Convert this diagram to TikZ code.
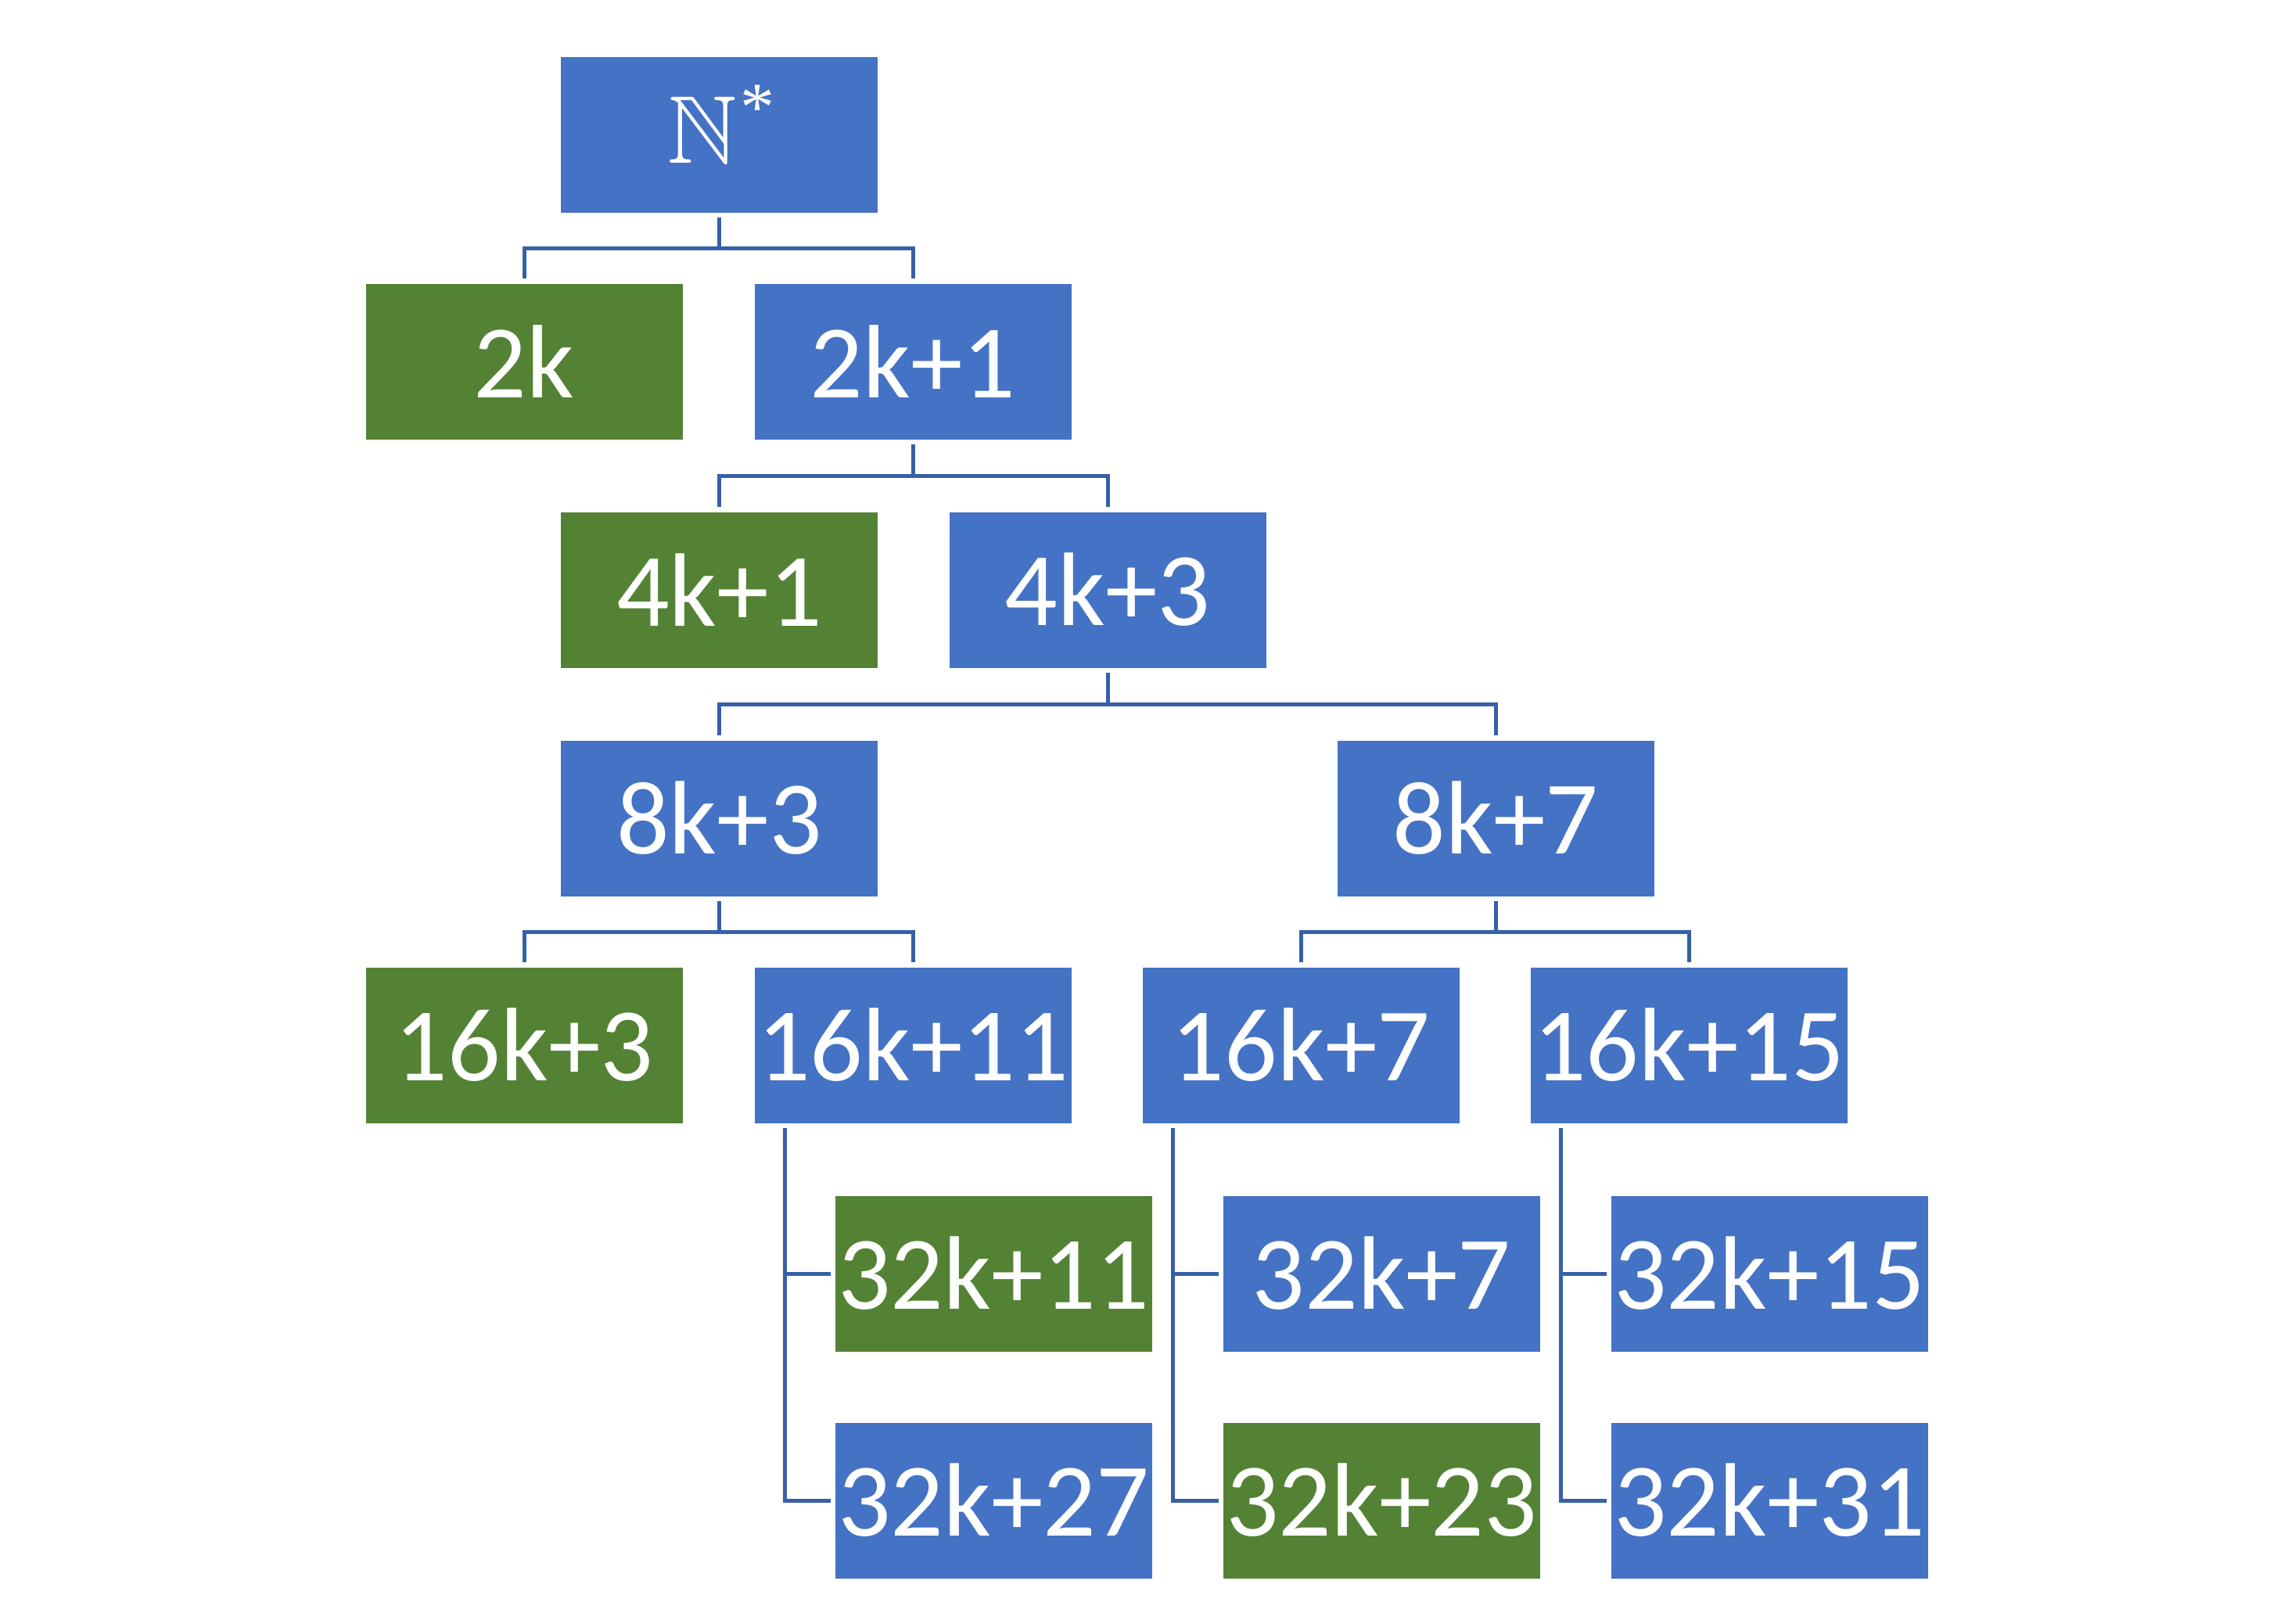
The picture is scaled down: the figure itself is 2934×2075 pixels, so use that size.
\documentclass[tikz,border=0pt]{standalone}
\usepackage{amssymb}
\usepackage{fontspec}
\setmainfont{Carlito}
\newfontfamily\starfont{Liberation Serif}
\usetikzlibrary{calc}
\definecolor{boxblue}{HTML}{4472C4}
\definecolor{boxgreen}{HTML}{548235}
\definecolor{linkblue}{HTML}{3560A8}
\begin{document}
\begin{tikzpicture}[x=0.1mm,y=-0.1mm,
  box/.style={minimum width=40.5mm, minimum height=19.9mm, inner sep=0pt, text=white, font=\fontsize{38}{45}\selectfont},
  bluebox/.style={box, fill=boxblue},
  greenbox/.style={box, fill=boxgreen},
  conn/.style={draw=linkblue, line width=0.5mm}]
\fill[white] (0,0) rectangle (2934,2075);
\useasboundingbox (0,0) rectangle (2934,2075);

\node[bluebox, font=\fontsize{35}{42}\selectfont] (N) at (919.5,172) {\smash{\hspace{0.5mm}\raisebox{-3.6mm}{$\mathbb{N}$\hspace{0.5mm}\raisebox{4.2mm}{\fontsize{25}{28}\starfont *}}}};
\node[greenbox] (a2k) at (670,462) {2k};
\node[bluebox] (b2k1) at (1167,462) {2k+1};
\node[greenbox] (c41) at (919.5,754) {4k+1};
\node[bluebox] (c43) at (1416,754) {4k+3};
\node[bluebox] (d83) at (919.5,1046) {8k+3};
\node[bluebox] (d87) at (1912,1046) {8k+7};
\node[greenbox] (e163) at (670,1336) {16k+3};
\node[bluebox] (e1611) at (1167,1336) {16k+11};
\node[bluebox] (e167) at (1663,1336) {16k+7};
\node[bluebox] (e1615) at (2159,1336) {16k+15};
\node[greenbox] (f3211) at (1270,1628) {32k+11};
\node[bluebox] (f3227) at (1270,1918) {32k+27};
\node[bluebox] (f327) at (1766,1628) {32k+7};
\node[greenbox] (f3223) at (1766,1918) {32k+23};
\node[bluebox] (f3215) at (2262,1628) {32k+15};
\node[bluebox] (f3231) at (2262,1918) {32k+31};

% binary branches
\foreach \p/\l/\r in {N/a2k/b2k1, b2k1/c41/c43, c43/d83/d87, d83/e163/e1611, d87/e167/e1615}{
  \coordinate (m) at ($(\p.south)!0.5!(\l.north)$);
  \draw[conn] ([yshift=-0.6mm]\p.south) -- (\p.south |- m);
  \draw[conn] ([yshift=0.6mm]\l.north) |- (\r.north |- m) -- ([yshift=0.6mm]\r.north);
}

% side branches
\foreach \p/\u/\d in {e1611/f3211/f3227, e167/f327/f3223, e1615/f3215/f3231}{
  \coordinate (bus) at ([xshift=4mm,yshift=-0.6mm]\p.south west);
  \draw[conn] (bus) |- ([xshift=-0.5mm]\d.west);
  \draw[conn] (bus |- \u.west) -- ([xshift=-0.5mm]\u.west);
}
\end{tikzpicture}
\end{document}
